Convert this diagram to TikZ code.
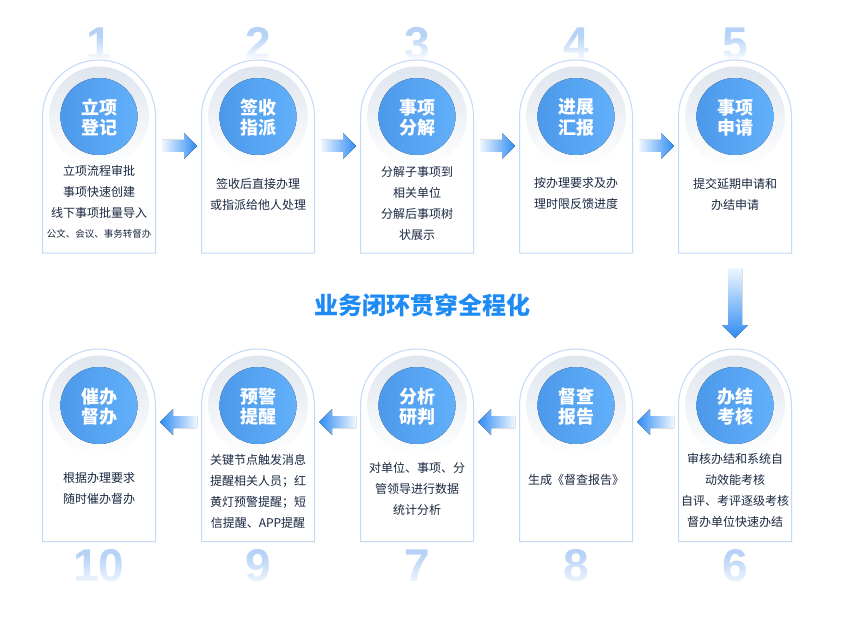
\documentclass[tikz,border=0pt]{standalone}
\usepackage{fontspec}
\setmainfont{Noto Sans CJK SC}
\newfontfamily\digitfont{Liberation Sans}
\usetikzlibrary{fadings,calc}
\definecolor{cardline}{HTML}{C2DAF7}
\definecolor{ringtop}{HTML}{DFE6EF}
\definecolor{discL}{HTML}{4C99EB}
\definecolor{discR}{HTML}{62AFFA}
\definecolor{desccol}{HTML}{1A2740}
\definecolor{numcol}{HTML}{B6D3F7}
\definecolor{arrL}{HTML}{F0F7FF}
\definecolor{arrR}{HTML}{2E8BF3}
\definecolor{titlecol}{HTML}{1E8BF5}
\tikzfading[name=ringfade, top color=transparent!0, middle color=transparent!88, bottom color=transparent!100]
\tikzset{
  cardbox/.style={draw=cardline, line width=1pt, fill=white},
  ring/.style={fill=ringtop, draw=none, path fading=ringfade},
  disc/.style={left color=discL, right color=discR, draw=none},
  disctext/.style={text=white, inner sep=0pt, align=center, font=\fontsize{18}{20.5}\selectfont\bfseries},
  desc/.style={text=desccol, inner sep=0pt, align=center, font=\fontsize{12}{21}\selectfont},
  descsmall/.style={text=desccol, inner sep=0pt, align=center, font=\fontsize{9.5}{12}\selectfont},
  numtext/.style={text=numcol, inner sep=0pt, anchor=base, font=\digitfont\bfseries\fontsize{46}{46}\selectfont},
  numfade/.style={fill=white, path fading=north},
  harrowR/.style={left color=arrL, right color=arrR, draw=none},
  harrowL/.style={left color=arrR, right color=arrL, draw=none},
  varrow/.style={top color=arrL, bottom color=arrR, draw=none},
  titletext/.style={text=titlecol, inner sep=0pt, font=\fontsize{24}{26}\selectfont\bfseries},
}
\begin{document}
\begin{tikzpicture}[x=1pt,y=-1pt]
\useasboundingbox (0,0) rectangle (853,628);
\fill[white] (0,0) rectangle (853,628);

% step numbers (behind the cards)
\foreach \n/\x/\y/\t in {n1/99/60/1, n2/258/60/2, n3/417/60/3, n4/576/60/4, n5/735/60/5}{
  \node[numtext] (\n) at (\x,\y) {\t};
  \fill[numfade] (\x-34,36) rectangle (\x+34,61);
}
\foreach \n/\x/\y/\t in {n10/99/581/10, n9/258/581/9, n7/417/581/7, n8/576/581/8, n6/735/581/6}{
  \node[numtext] (\n) at (\x,\y) {\t};
  \fill[numfade] (\x-36,555) rectangle (\x+36,590);
}

% cards
\foreach \n/\x/\y/\b in {c1/99/116.5/253, c2/258/116.5/253, c3/417/116.5/253, c4/576/116.5/253, c5/735/116.5/253,
                         c10/99/405.5/541.5, c9/258/405.5/541.5, c7/417/405.5/541.5, c8/576/405.5/541.5, c6/735/405.5/541.5}{
  \draw[cardbox] (\x-56.5,\b) -- (\x-56.5,\y) arc[start angle=180,end angle=360,radius=56.5] -- (\x+56.5,\b) -- cycle;
  \fill[ring] (\x,\y) circle[radius=50];
  \fill[disc] (\x,\y) circle[radius=38.5];
  \coordinate (\n) at (\x,\y);
}

% circle titles
\node[disctext] (t1) at ($(c1)+(0,1)$) {立项\\登记};
\node[disctext] (t2) at ($(c2)+(0,1)$) {签收\\指派};
\node[disctext] (t3) at ($(c3)+(0,1)$) {事项\\分解};
\node[disctext] (t4) at ($(c4)+(0,1)$) {进展\\汇报};
\node[disctext] (t5) at ($(c5)+(0,1)$) {事项\\申请};
\node[disctext] (t6) at ($(c6)+(0,1)$) {办结\\考核};
\node[disctext] (t7) at ($(c7)+(0,1)$) {分析\\研判};
\node[disctext] (t8) at ($(c8)+(0,1)$) {督查\\报告};
\node[disctext] (t9) at ($(c9)+(0,1)$) {预警\\提醒};
\node[disctext] (t10) at ($(c10)+(0,1)$) {催办\\督办};

% descriptions
\node[desc] (d1) at (99,192) {立项流程审批\\事项快速创建\\线下事项批量导入};
\node[descsmall] (d1s) at (99,234) {公文、会议、事务转督办};
\node[desc] (d2) at (258,194) {签收后直接办理\\或指派给他人处理};
\node[desc] (d3) at (417,203) {分解子事项到\\相关单位\\分解后事项树\\状展示};
\node[desc] (d4) at (576,193.5) {按办理要求及办\\理时限反馈进度};
\node[desc] (d5) at (735,194.5) {提交延期申请和\\办结申请};
\node[desc] (d6) at (735,490.5) {审核办结和系统自\\动效能考核\\自评、考评逐级考核\\督办单位快速办结};
\node[desc] (d7) at (417,489) {对单位、事项、分\\管领导进行数据\\统计分析};
\node[desc] (d8) at (576,480) {生成《督查报告》};
\node[desc] (d9) at (258,491.5) {关键节点触发消息\\提醒相关人员；红\\黄灯预警提醒；短\\信提醒、APP提醒};
\node[desc] (d10) at (99,488.5) {根据办理要求\\随时催办督办};

% title
\node[titletext] (title) at (422,305) {业务闭环贯穿全程化};

% arrows top row (pointing right)
\foreach \a/\b in {c1/c2, c2/c3, c3/c4, c4/c5}{
  \coordinate (s) at ($(\a)+(63,29.5)$);
  \coordinate (e) at ($(\b)+(-61,29.5)$);
  \fill[harrowR] let \p1=(s), \p2=(e) in
    (\x1,\y1+6pt) -- (\x2-13pt,\y1+6pt) -- (\x2-13pt,\y1+13pt) -- (\x2,\y1)
    -- (\x2-13pt,\y1-13pt) -- (\x2-13pt,\y1-6pt) -- (\x1,\y1-6pt) -- cycle;
}
% arrows bottom row (pointing left)
\foreach \a/\b in {c6/c8, c8/c7, c7/c9, c9/c10}{
  \coordinate (s) at ($(\a)+(-61,16.5)$);
  \coordinate (e) at ($(\b)+(61,16.5)$);
  \fill[harrowL] let \p1=(s), \p2=(e) in
    (\x1,\y1+6pt) -- (\x2+13pt,\y1+6pt) -- (\x2+13pt,\y1+13pt) -- (\x2,\y1)
    -- (\x2+13pt,\y1-13pt) -- (\x2+13pt,\y1-6pt) -- (\x1,\y1-6pt) -- cycle;
}
% down arrow
\coordinate (ds) at (735,268);
\coordinate (de) at ($(c6)+(0,-67.5)$);
\fill[varrow] let \p1=(ds), \p2=(de) in
  (\x1-7pt,\y1) -- (\x1-7pt,\y2+13pt) -- (\x1-13pt,\y2+13pt) -- (\x1,\y2)
  -- (\x1+13pt,\y2+13pt) -- (\x1+7pt,\y2+13pt) -- (\x1+7pt,\y1) -- cycle;
\end{tikzpicture}
\end{document}
